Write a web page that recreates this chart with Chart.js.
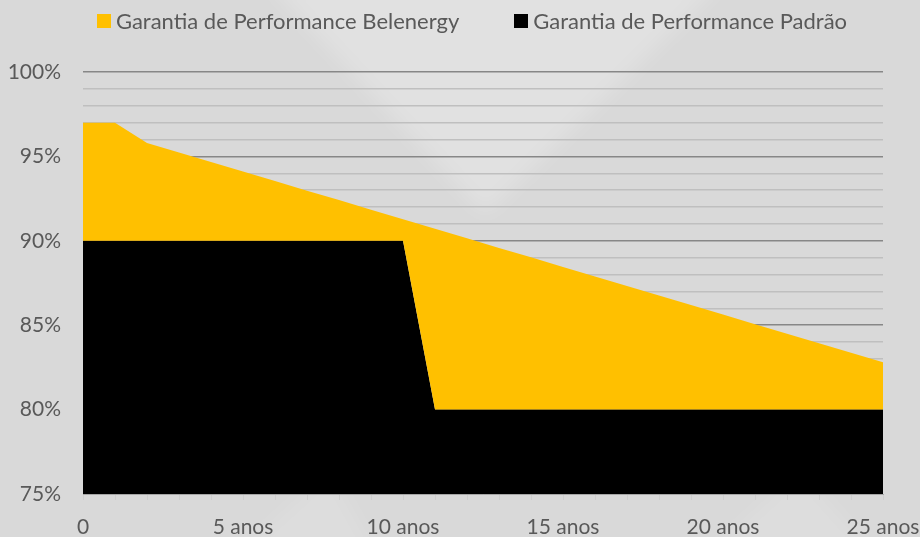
<!DOCTYPE html>
<html>
<head>
<meta charset="utf-8">
<script src="https://cdn.jsdelivr.net/npm/chart.js@4"></script>
<style>
  html, body { margin: 0; padding: 0; background: #d9d9d9; }
  #wrap { position: relative; width: 920px; height: 537px; }
  #legenda {
    position: absolute; top: 7px; left: 12px; width: 920px;
    display: flex; justify-content: center; gap: 55px;
    font-family: Lato, "Open Sans", sans-serif; font-size: 22px; color: #595959;
  }
  .item { display: flex; align-items: center; }
  .caixa { width: 14px; height: 14px; margin-right: 5px; }
</style>
</head>
<body>
<div id="wrap">
  <canvas id="grafico" width="920" height="537"></canvas>
  <div id="legenda"></div>
</div>
<script>
// Dados
const anos = [0, 1, 2, 3, 4, 5, 6, 7, 8, 9, 10, 11, 12, 13, 14, 15, 16, 17, 18, 19, 20, 21, 22, 23, 24, 25];
const belenergy = [97, 97, 95.8, 95.23, 94.67, 94.1, 93.54, 92.97, 92.41, 91.84, 91.28, 90.71, 90.15,
                   89.58, 89.02, 88.45, 87.89, 87.32, 86.76, 86.19, 85.63, 85.06, 84.5, 83.93, 83.37, 82.8];
const padrao = [90, 90, 90, 90, 90, 90, 90, 90, 90, 90, 90, 80, 80,
                80, 80, 80, 80, 80, 80, 80, 80, 80, 80, 80, 80, 80];
const rotulosX = ['0', '5 anos', '10 anos', '15 anos', '20 anos', '25 anos'];
const rotulosY = ['75%', '80%', '85%', '90%', '95%', '100%'];

const fonte = { family: 'Lato, "Open Sans", sans-serif', size: 21 };

// fundo cinza com a marca d'água em "V"
const fundo = {
  id: 'fundo',
  beforeDraw(chart) {
    const c = chart.ctx;
    c.save();
    c.fillStyle = '#d9d9d9';
    c.fillRect(0, 0, chart.width, chart.height);
    c.filter = 'blur(10px)';
    c.fillStyle = 'rgba(255,255,255,0.22)';
    c.beginPath();
    c.moveTo(265, -20);
    c.lineTo(485, 215);
    c.lineTo(725, -20);
    c.closePath();
    c.fill();
    c.fillStyle = 'rgba(255,255,255,0.12)';
    c.beginPath();
    c.moveTo(230, 560);
    c.lineTo(330, 470);
    c.lineTo(380, 560);
    c.closePath();
    c.fill();
    c.beginPath();
    c.moveTo(700, 560);
    c.lineTo(800, 470);
    c.lineTo(880, 560);
    c.closePath();
    c.fill();
    c.restore();
  }
};

const grafico = new Chart(document.getElementById('grafico'), {
  type: 'line',
  data: {
    labels: anos,
    datasets: [
      {
        label: 'Garantia de Performance Belenergy',
        data: belenergy,
        backgroundColor: '#ffc000',
        borderColor: '#ffc000',
        borderWidth: 0,
        pointRadius: 0,
        tension: 0,
        fill: '+1'
      },
      {
        label: 'Garantia de Performance Padrão',
        data: padrao,
        backgroundColor: '#000000',
        borderColor: '#000000',
        borderWidth: 0,
        pointRadius: 0,
        tension: 0,
        fill: 'origin'
      }
    ]
  },
  options: {
    responsive: false,
    animation: false,
    layout: { padding: { top: 72, right: 0, bottom: 0, left: 0 } },
    plugins: {
      legend: { display: false },
      tooltip: { enabled: false }
    },
    scales: {
      x: {
        offset: false,
        grid: { display: true, drawOnChartArea: false, drawTicks: true, tickLength: 6, color: '#cfcfcf' },
        border: { display: true, color: '#a6a6a6', width: 1 },
        ticks: {
          autoSkip: false,
          maxRotation: 0,
          padding: 15,
          color: '#595959',
          font: fonte,
          callback: function(value, index) {
            const ano = anos[index];
            return ano % 5 === 0 ? rotulosX[ano / 5] : '';
          }
        },
        afterFit: function(scale) {
          scale.height = 43;
          scale.paddingRight = 37;
          scale.paddingLeft = 0;
        }
      },
      y: {
        min: 75,
        max: 100,
        grid: {
          drawTicks: false,
          lineWidth: 1.5,
          color: function(ctx) {
            return ctx.tick && ctx.tick.value % 5 === 0 ? '#878787' : '#bfbfbf';
          }
        },
        border: { display: false },
        ticks: {
          stepSize: 1,
          autoSkip: false,
          maxTicksLimit: 30,
          padding: 22,
          color: '#595959',
          font: fonte,
          callback: function(value) {
            return value % 5 === 0 ? rotulosY[(value - 75) / 5] : '';
          }
        },
        afterFit: function(scale) { scale.width = 83; }
      }
    }
  },
  plugins: [fundo]
});

// legenda em HTML a partir dos datasets
const legenda = document.getElementById('legenda');
grafico.data.datasets.forEach(ds => {
  const item = document.createElement('div');
  item.className = 'item';
  const caixa = document.createElement('span');
  caixa.className = 'caixa';
  caixa.style.background = ds.backgroundColor;
  item.appendChild(caixa);
  const texto = document.createElement('span');
  texto.textContent = ds.label;
  item.appendChild(texto);
  legenda.appendChild(item);
});
</script>
</body>
</html>
